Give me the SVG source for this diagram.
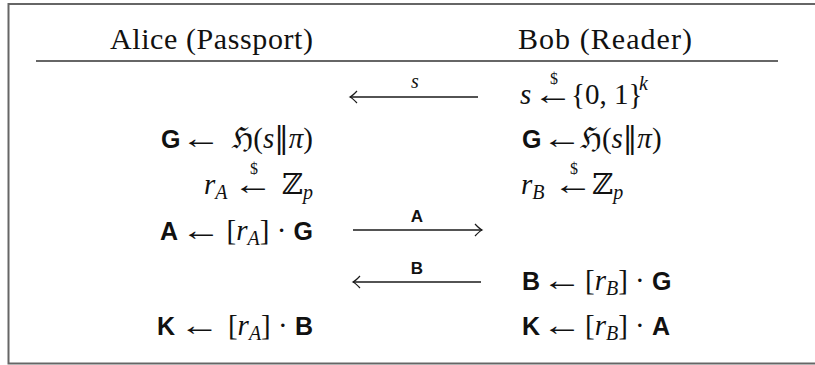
<svg xmlns="http://www.w3.org/2000/svg" width="815" height="365" viewBox="0 0 815 365">
<style>
  text { fill: #111; font-family: "Liberation Serif", "DejaVu Serif", serif; font-size: 29px; }
  .hdr { font-size: 30px; }
  .it { font-style: italic; }
  .sf { font-family: "Liberation Sans", "DejaVu Sans", sans-serif; font-weight: bold; font-size: 25px; font-style: normal; }
  .sub { font-style: italic; font-size: 20px; }
  .sym { font-family: "DejaVu Serif", "DejaVu Sans", serif; }
  .arr { font-size: 30px; text-anchor: middle; }
  .end { text-anchor: end; }
  .dollar { font-size: 16px; text-anchor: middle; }
  .lbl { font-size: 20px; text-anchor: middle; }
  .lblsf { font-family: "Liberation Sans", "DejaVu Sans", sans-serif; font-weight: bold; font-size: 17px; text-anchor: middle; }
  .msg { stroke: #1a1a1a; stroke-width: 1.3; fill: none; }
</style>
<defs>
  <marker id="tip" viewBox="-10 -8 12 16" markerWidth="12" markerHeight="16" refX="0" refY="0" orient="auto-start-reverse" markerUnits="userSpaceOnUse">
    <path d="M-7,-6 Q-2.5,-1.2 0,0 Q-2.5,1.2 -7,6" fill="none" stroke="#1a1a1a" stroke-width="1.2"/>
  </marker>
</defs>

<rect x="8.5" y="4" width="830" height="359.5" fill="#fff" stroke="#666" stroke-width="2"/>

<g id="header">
  <text class="hdr" x="110" y="49" textLength="203" lengthAdjust="spacing">Alice (Passport)</text>
  <text class="hdr" x="518" y="49" textLength="174" lengthAdjust="spacing">Bob (Reader)</text>
  <line x1="36" y1="61" x2="778" y2="61" stroke="#666" stroke-width="2"/>
</g>

<g id="alice">
  <g id="alice-G">
    <text class="sf" x="161" y="148">G</text>
    <text class="arr" transform="translate(201,148) scale(1.35,1)">←</text>
    <text class="end" x="313" y="148"><tspan class="sym">ℌ</tspan>(<tspan class="it">s</tspan><tspan class="sym">‖</tspan><tspan class="it">π</tspan>)</text>
  </g>
  <g id="alice-rA">
    <text x="204" y="194"><tspan class="it">r</tspan><tspan class="sub" dy="5">A</tspan></text>
    <text class="arr" transform="translate(253,194) scale(1.35,1)">←</text>
    <text class="dollar" x="254" y="174">$</text>
    <text class="end" x="313" y="194"><tspan class="sym">ℤ</tspan><tspan class="sub" dy="5">p</tspan></text>
  </g>
  <g id="alice-A">
    <text class="sf" x="160" y="240">A</text>
    <text class="arr" transform="translate(201,240) scale(1.35,1)">←</text>
    <text class="end" x="313" y="240">[<tspan class="it">r</tspan><tspan class="sub" dy="5">A</tspan><tspan dy="-5">] · </tspan><tspan class="sf">G</tspan></text>
  </g>
  <g id="alice-K">
    <text class="sf" x="157" y="335">K</text>
    <text class="arr" transform="translate(199.5,335) scale(1.35,1)">←</text>
    <text class="end" x="313" y="335">[<tspan class="it">r</tspan><tspan class="sub" dy="5">A</tspan><tspan dy="-5">] · </tspan><tspan class="sf">B</tspan></text>
  </g>
</g>

<g id="bob">
  <g id="bob-s">
    <text class="it" x="520" y="104">s</text>
    <text class="arr" transform="translate(553,104) scale(1.35,1)">←</text>
    <text class="dollar" x="554" y="84">$</text>
    <text x="571" y="104">{0, 1}</text>
    <text class="sub" x="639" y="90">k</text>
  </g>
  <g id="bob-G">
    <text class="sf" x="522" y="148">G</text>
    <text class="arr" transform="translate(562,148) scale(1.35,1)">←</text>
    <text x="580" y="148"><tspan class="sym">ℌ</tspan>(<tspan class="it">s</tspan><tspan class="sym">‖</tspan><tspan class="it">π</tspan>)</text>
  </g>
  <g id="bob-rB">
    <text x="521" y="194"><tspan class="it">r</tspan><tspan class="sub" dy="5">B</tspan></text>
    <text class="arr" transform="translate(573,194) scale(1.35,1)">←</text>
    <text class="dollar" x="574" y="174">$</text>
    <text x="592" y="194"><tspan class="sym">ℤ</tspan><tspan class="sub" dy="5">p</tspan></text>
  </g>
  <g id="bob-B">
    <text class="sf" x="522" y="290">B</text>
    <text class="arr" transform="translate(562,290) scale(1.35,1)">←</text>
    <text x="585" y="290">[<tspan class="it">r</tspan><tspan class="sub" dy="5">B</tspan><tspan dy="-5">] · </tspan><tspan class="sf">G</tspan></text>
  </g>
  <g id="bob-K">
    <text class="sf" x="522" y="335">K</text>
    <text class="arr" transform="translate(562,335) scale(1.35,1)">←</text>
    <text x="585" y="335">[<tspan class="it">r</tspan><tspan class="sub" dy="5">B</tspan><tspan dy="-5">] · </tspan><tspan class="sf">A</tspan></text>
  </g>
</g>

<g id="connectors">
  <line class="msg" x1="478" y1="97" x2="350" y2="97" marker-end="url(#tip)"/>
  <text class="lbl it" x="415" y="88">s</text>
  <line class="msg" x1="353" y1="230" x2="482" y2="230" marker-end="url(#tip)"/>
  <text class="lblsf" x="417" y="222">A</text>
  <line class="msg" x1="481" y1="282" x2="353" y2="282" marker-end="url(#tip)"/>
  <text class="lblsf" x="417" y="274">B</text>
</g>
</svg>
